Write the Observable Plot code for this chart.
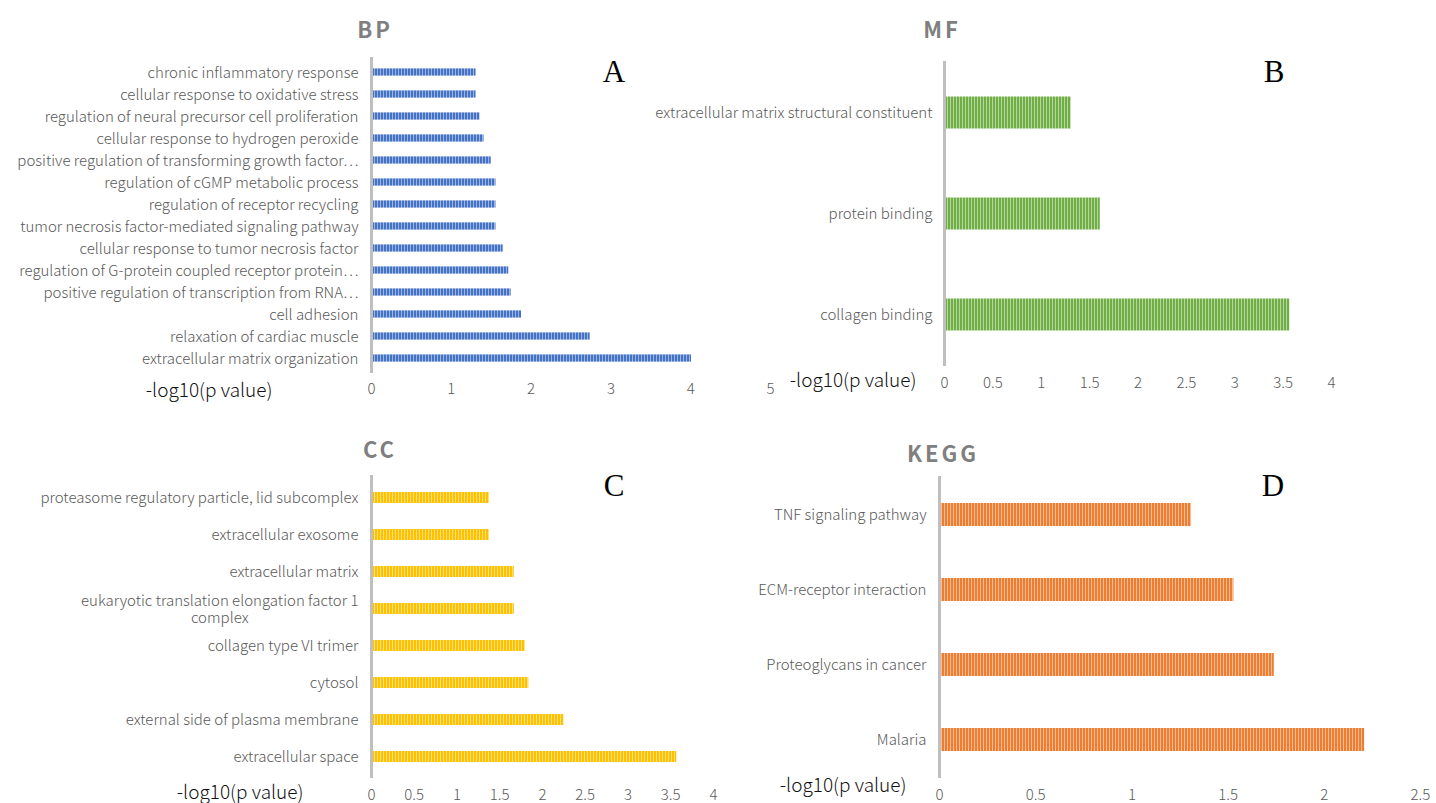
<!DOCTYPE html>
<html><head><meta charset="utf-8">
<script src="https://cdn.jsdelivr.net/npm/d3@7"></script>
<script src="https://cdn.jsdelivr.net/npm/@observablehq/plot@0.6"></script>
<style>
body{margin:0;background:#fff;overflow:hidden}
#wrap{position:relative;width:1436px;height:803px;overflow:hidden;font-family:"Noto Sans CJK SC","Noto Sans",sans-serif}
#wrap svg{position:absolute;left:0;top:0;background:transparent;overflow:visible}
.title{position:absolute;font-weight:bold;color:#7f7f7f;font-size:22px;letter-spacing:3px;transform:translate(-50%,-50%);white-space:nowrap}
.letter{position:absolute;font-family:"Liberation Serif","DejaVu Serif",serif;font-size:31px;color:#000;transform:translate(-50%,-50%)}
</style></head><body><div id="wrap"></div>
<script>
// ---- data ----
const bpTerms = [
  "chronic inflammatory response",
  "cellular response to oxidative stress",
  "regulation of neural precursor cell proliferation",
  "cellular response to hydrogen peroxide",
  "positive regulation of transforming growth factor…",
  "regulation of cGMP metabolic process",
  "regulation of receptor recycling",
  "tumor necrosis factor-mediated signaling pathway",
  "cellular response to tumor necrosis factor",
  "regulation of G-protein coupled receptor protein…",
  "positive regulation of transcription from RNA…",
  "cell adhesion",
  "relaxation of cardiac muscle",
  "extracellular matrix organization"
];
const bpValues = [1.31, 1.31, 1.36, 1.41, 1.50, 1.56, 1.56, 1.56, 1.65, 1.72, 1.75, 1.88, 2.74, 4.01];
const bpTicks = [0, 1, 2, 3, 4, 5];

const mfTerms = ["extracellular matrix structural constituent", "protein binding", "collagen binding"];
const mfValues = [1.31, 1.61, 3.57];
const mfTicks = [0, 0.5, 1, 1.5, 2, 2.5, 3, 3.5, 4];

const ccTerms = [
  "proteasome regulatory particle, lid subcomplex",
  "extracellular exosome",
  "extracellular matrix",
  "eukaryotic translation elongation factor 1 complex",
  "collagen type VI trimer",
  "cytosol",
  "external side of plasma membrane",
  "extracellular space"
];
const ccValues = [1.38, 1.38, 1.67, 1.67, 1.80, 1.84, 2.25, 3.57];
const ccTicks = [0, 0.5, 1, 1.5, 2, 2.5, 3, 3.5, 4];

const keggTerms = ["TNF signaling pathway", "ECM-receptor interaction", "Proteoglycans in cancer", "Malaria"];
const keggValues = [1.31, 1.53, 1.74, 2.21];
const keggTicks = [0, 0.5, 1, 1.5, 2, 2.5];

const xLabel = "-log10(p value)";
const wrapTerm = "eukaryotic translation elongation factor 1 complex";
const wrapLines = "eukaryotic translation elongation factor 1\ncomplex";

const panels = [
  {terms: bpTerms, values: bpValues, ticks: bpTicks, domain: [0, 5], id: "patA", base: "#4472C4", light: "#9db4e0",
   left: 371, right: 770, top: 57, bottom: 373, inset: 7.4, tickPad: 10, yPad: 13, labDx: -99, labDy: 23,
   title: "BP", tx: 375, ty: 28, letter: "A", lx: 614, ly: 72},
  {terms: mfTerms, values: mfValues, ticks: mfTicks, domain: [0, 4], id: "patB", base: "#70AD47", light: "#b5d99c",
   left: 944, right: 1331, top: 61, bottom: 366, inset: 34.5, tickPad: 11, yPad: 12, labDx: -28, labDy: 20,
   title: "MF", tx: 942, ty: 28, letter: "B", lx: 1274, ly: 72},
  {terms: ccTerms, values: ccValues, ticks: ccTicks, domain: [0, 4], id: "patC", base: "#FFC000", light: "#ffe07a",
   left: 371, right: 713, top: 475, bottom: 778, inset: 13, tickPad: 11, yPad: 13, labDx: -68, labDy: 20,
   title: "CC", tx: 380, ty: 448, letter: "C", lx: 614, ly: 486},
  {terms: keggTerms, values: keggValues, ticks: keggTicks, domain: [0, 2.5], id: "patD", base: "#ED7D31", light: "#f7bc94",
   left: 939, right: 1420, top: 476, bottom: 778, inset: 26, tickPad: 11, yPad: 13, labDx: -33, labDy: 13,
   title: "KEGG", tx: 943, ty: 452, letter: "D", lx: 1273, ly: 486}
];

const W = 1436, H = 803;
const wrap = document.getElementById("wrap");

for (const p of panels) {
  const data = p.terms.map((t, i) => ({term: t, value: p.values[i]}));
  const svg = Plot.plot({
    width: W, height: H,
    marginLeft: p.left, marginRight: W - p.right, marginTop: p.top, marginBottom: H - p.bottom,
    style: {background: "transparent", color: "#595959", fontSize: "15px", fontWeight: 300,
            fontFamily: '"Noto Sans CJK SC","Noto Sans",sans-serif', overflow: "visible"},
    x: {domain: p.domain, axis: null, label: null},
    y: {domain: p.terms, padding: 0, axis: null, label: null},
    marks: [
      Plot.barX(data, {x: "value", y: "term", fill: `url(#${p.id})`, insetTop: p.inset, insetBottom: p.inset}),
      Plot.ruleX([0], {stroke: "#bfbfbf", strokeWidth: 3}),
      Plot.axisX({ticks: p.ticks, tickSize: 0, tickPadding: p.tickPad, label: null, fill: "#595959",
        tickFormat: d => String(d)}),
      Plot.axisY({tickSize: 0, tickPadding: p.yPad, label: null, fill: "#595959", lineHeight: 1.1,
        tickFormat: d => d === wrapTerm ? wrapLines : d}),
      Plot.text([xLabel], {frameAnchor: "bottom-left", textAnchor: "end", dx: p.labDx, dy: p.labDy,
        fontSize: 19, fill: "#111"})
    ]
  });
  const defs = d3.select(svg).insert("defs", ":first-child");
  const pat = defs.append("pattern").attr("id", p.id).attr("patternUnits", "userSpaceOnUse")
    .attr("width", 3).attr("height", 10);
  pat.append("rect").attr("x", 0).attr("y", 0).attr("width", 3).attr("height", 10).attr("fill", p.light);
  pat.append("rect").attr("x", 0).attr("y", 0).attr("width", 2).attr("height", 10).attr("fill", p.base);
  wrap.appendChild(svg);

  // center the second line of a wrapped label under the first, as in the original
  d3.select(svg).selectAll("text").each(function() {
    const spans = this.querySelectorAll("tspan");
    if (spans.length === 2) {
      const w1 = spans[0].getComputedTextLength(), w2 = spans[1].getComputedTextLength();
      spans[1].setAttribute("x", -(w1 - w2) / 2);
    }
  });

  const t = document.createElement("div");
  t.className = "title"; t.textContent = p.title;
  t.style.left = p.tx + "px"; t.style.top = p.ty + "px";
  wrap.appendChild(t);
  const l = document.createElement("div");
  l.className = "letter"; l.textContent = p.letter;
  l.style.left = p.lx + "px"; l.style.top = p.ly + "px";
  wrap.appendChild(l);
}
</script>
</body></html>
